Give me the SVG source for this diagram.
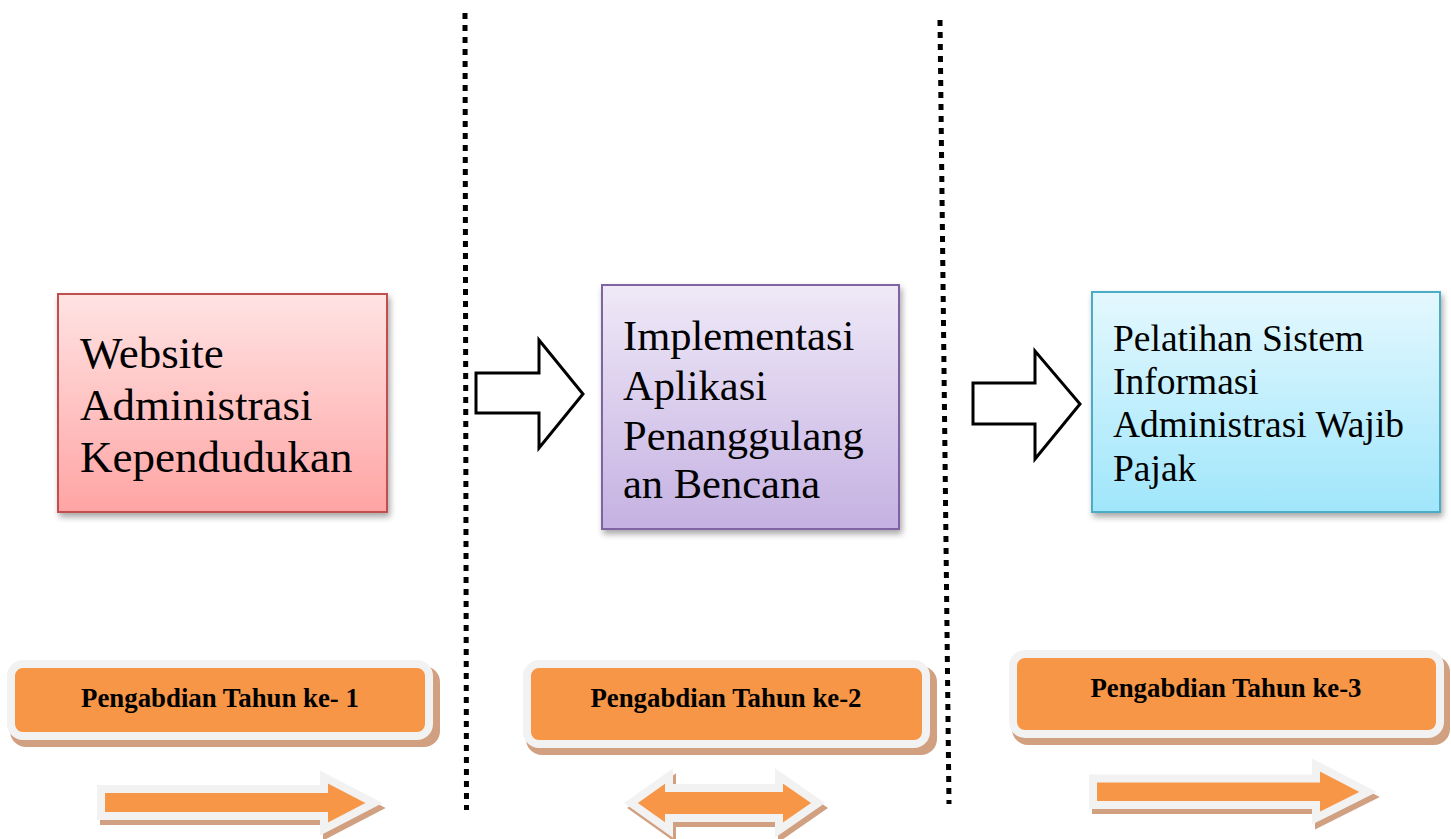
<svg xmlns="http://www.w3.org/2000/svg" width="1451" height="839" viewBox="0 0 1451 839">
<defs>
<style>
.box{stroke-width:2}
.big{font-family:"Liberation Serif","Times New Roman",serif;fill:#000}
.lbl{font-family:"Liberation Serif","Times New Roman",serif;font-weight:bold;font-size:26.8px;fill:#000;text-anchor:middle}
.dots{stroke:#000;stroke-width:5;stroke-dasharray:6 6;fill:none}
.outl{fill:#fff;stroke:#000;stroke-width:3;stroke-linejoin:miter}
.pill{fill:#f79646;stroke:#f2f2f2;stroke-width:8}
.pshadow{fill:#d1a080;stroke:#d1a080;stroke-width:8}
.oarr{fill:#f79646;stroke:#f2f2f2;stroke-width:8;stroke-linejoin:miter}
.oshadow{fill:#d1a080;stroke:#d1a080;stroke-width:8;stroke-linejoin:miter}
</style>
<linearGradient id="gRed" x1="0" y1="0" x2="0" y2="1"><stop offset="0" stop-color="#ffe3e3"/><stop offset="1" stop-color="#ffa4a4"/></linearGradient>
<linearGradient id="gPur" x1="0" y1="0" x2="0" y2="1"><stop offset="0" stop-color="#efe9f7"/><stop offset="1" stop-color="#c5b1e2"/></linearGradient>
<linearGradient id="gCya" x1="0" y1="0" x2="0" y2="1"><stop offset="0" stop-color="#e4f8fe"/><stop offset="1" stop-color="#a0e6fb"/></linearGradient>
<filter id="sh" x="-10%" y="-10%" width="130%" height="130%"><feDropShadow dx="2" dy="4" stdDeviation="3" flood-color="#000" flood-opacity="0.35"/></filter>
</defs>

<g id="dividers">
<line class="dots" x1="465" y1="13" x2="466.5" y2="810"/>
<line class="dots" x1="940" y1="20" x2="949" y2="804"/>
</g>

<g id="node-website">
<rect class="box" x="58" y="294" width="329" height="218" fill="url(#gRed)" stroke="#c0504d" filter="url(#sh)"/>
<text class="big" font-size="45" x="80"><tspan x="80" y="368">Website</tspan><tspan x="80" y="420">Administrasi</tspan><tspan x="80" y="472">Kependudukan</tspan></text>
</g>

<g id="node-implementasi">
<rect class="box" x="602" y="285" width="297" height="244" fill="url(#gPur)" stroke="#8064a2" filter="url(#sh)"/>
<text class="big" font-size="42.5" x="623"><tspan x="623" y="350">Implementasi</tspan><tspan x="623" y="400">Aplikasi</tspan><tspan x="623" y="450">Penanggulang</tspan><tspan x="623" y="498">an Bencana</tspan></text>
</g>

<g id="node-pelatihan">
<rect class="box" x="1092" y="292" width="348" height="220" fill="url(#gCya)" stroke="#4bacc6" filter="url(#sh)"/>
<text class="big" font-size="37.5" x="1113"><tspan x="1113" y="351">Pelatihan Sistem</tspan><tspan x="1113" y="394">Informasi</tspan><tspan x="1113" y="437">Administrasi Wajib</tspan><tspan x="1113" y="481">Pajak</tspan></text>
</g>

<g id="connectors">
<polygon class="outl" points="476,373 539,373 539,340 583,394 539,448 539,413 476,413"/>
<polygon class="outl" points="973,383 1035,383 1035,351 1080,404 1035,459 1035,424 973,424"/>
</g>

<g id="label-1">
<rect class="pshadow" x="14" y="670" width="422" height="73" rx="12"/>
<rect class="pill" x="11" y="664" width="418" height="72" rx="12"/>
<text class="lbl" x="220" y="707">Pengabdian Tahun ke- 1</text>
</g>

<g id="label-2">
<rect class="pshadow" x="530" y="670" width="403" height="81" rx="12"/>
<rect class="pill" x="527" y="664" width="399" height="80" rx="12"/>
<text class="lbl" x="726" y="707">Pengabdian Tahun ke-2</text>
</g>

<g id="label-3">
<rect class="pshadow" x="1016" y="660" width="430" height="81" rx="12"/>
<rect class="pill" x="1013" y="654" width="427" height="80" rx="12"/>
<text class="lbl" x="1226" y="697">Pengabdian Tahun ke-3</text>
</g>

<g id="arrow-1">
<polygon class="oshadow" points="104,794 327,794 327,782 377,808 327,834 327,821 104,821"/>
<polygon class="oarr" points="101,789 324,789 324,777 374,803 324,829 324,816 101,816"/>
</g>

<g id="arrow-2">
<polygon class="oshadow" points="634,808 672,781 672,793 782,793 782,781 821,808 782,835 782,823 672,823 672,835"/>
<polygon class="oarr" points="631,803 669,776 669,788 779,788 779,776 818,803 779,830 779,818 669,818 669,830"/>
</g>

<g id="arrow-3">
<polygon class="oshadow" points="1096,783.5 1319,783.5 1319,770 1371,797 1319,823 1319,810 1096,810"/>
<polygon class="oarr" points="1093,778.5 1316,778.5 1316,765 1368,792 1316,818 1316,805 1093,805"/>
</g>
</svg>
